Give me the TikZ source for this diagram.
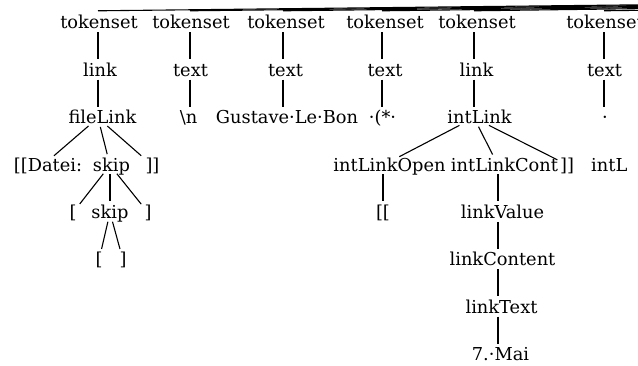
\documentclass[tikz,border=0pt]{standalone}
\usepackage{fontspec}
\setmainfont{DejaVu Serif}
\begin{document}
\begin{tikzpicture}[x=1pt,y=-1pt,
  lbl/.style={anchor=base,inner sep=0pt,text height=12pt,text depth=0pt,font=\fontsize{17.8}{20}\selectfont},
  % sh=<2d> sets the label's text d to the right of the node's centre
  sh/.style={execute at begin node={\hspace*{#1}}},
  br/.style={line width=1.1pt,shorten <=3pt,shorten >=5pt},
  top/.style={line width=1.1pt}]
\useasboundingbox (0,0) rectangle (638,366);
\clip (0,0) rectangle (638,366);
% row baselines
\def\ra{29}\def\rb{76.4}\def\rc{123.8}\def\rd{171.2}
\def\re{218.6}\def\rf{266}\def\rg{313.4}\def\rh{360.8}
% tokenset row
\node[lbl,sh=2pt] (t1) at (98,\ra) {tokenset};
\node[lbl,sh=2pt] (t2) at (190,\ra) {tokenset};
\node[lbl,sh=6pt] (t3) at (283,\ra) {tokenset};
\node[lbl,sh=6pt] (t4) at (382,\ra) {tokenset};
\node[lbl,sh=6pt] (t5) at (474,\ra) {tokenset};
\node[lbl,sh=2pt] (t6) at (604,\ra) {tokenset};
\coordinate (root) at (2530,-16);
\foreach \t in {t1,t2,t3,t4,t5,t6}
  \draw[top] ([yshift=6pt]\t.north) -- (root);
% second row
\node[lbl,sh=4pt] (k1) at (98,\rb) {link};
\node[lbl,sh=1pt] (k2) at (190,\rb) {text};
\node[lbl,sh=5pt] (k3) at (283,\rb) {text};
\node[lbl,sh=6pt] (k4) at (382,\rb) {text};
\node[lbl,sh=5pt] (k5) at (474,\rb) {link};
\node[lbl,sh=1pt] (k6) at (604,\rb) {text};
% third row
\node[lbl,sh=9pt] (f1) at (98,\rc) {fileLink};
\node[lbl,sh=-3pt] (f2) at (190,\rc) {\textbackslash n};
\node[lbl,sh=8pt] (f3) at (283,\rc) {Gustave·Le·Bon};
\node[lbl,sh=1pt] (f4) at (382,\rc) {·(*·};
\node[lbl,sh=11pt] (f5) at (474,\rc) {intLink};
\node[lbl,sh=2pt] (f6) at (604,\rc) {·};
\foreach \i in {1,...,6} {
  \draw[br] (t\i) -- (k\i);
  \draw[br] (k\i) -- (f\i);
}
% fileLink subtree
\node[lbl,sh=10pt] (d1) at (43,\rd) {[[Datei:};
\node[lbl,sh=3pt] (d2) at (110,\rd) {skip};
\node[lbl,sh=1pt] (d3) at (152,\rd) {]]};
\node[lbl] (s1) at (73,\re) {[};
\node[lbl] (s2) at (110,\re) {skip};
\node[lbl] (s3) at (148,\re) {]};
\node[lbl] (b1) at (99,\rf) {[};
\node[lbl] (b2) at (123,\rf) {]};
\foreach \c in {d1,d2,d3} \draw[br] (f1) -- (\c);
\foreach \c in {s1,s2,s3} \draw[br] (d2) -- (\c);
\foreach \c in {b1,b2} \draw[br] (s2) -- (\c);
% intLink subtree
\node[lbl,sh=13pt] (i1) at (383,\rd) {intLinkOpen};
\node[lbl,sh=13pt] (i2) at (498,\rd) {intLinkCont};
\node[lbl,sh=-2pt] (i3) at (568,\rd) {]]};
\node[lbl,anchor=base west] (i4) at (591,\rd) {intL};
\node[lbl] (o1) at (383,\re) {[[};
\node[lbl,sh=9pt] (v1) at (498,\re) {linkValue};
\node[lbl,sh=9pt] (v2) at (498,\rf) {linkContent};
\node[lbl,sh=7pt] (v3) at (498,\rg) {linkText};
\node[lbl,sh=5pt] (v4) at (498,\rh) {7.·Mai};
\foreach \c in {i1,i2,i3} \draw[br] (f5) -- (\c);
\draw[br] (i1) -- (o1);
\draw[br] (i2) -- (v1);
\draw[br] (v1) -- (v2);
\draw[br] (v2) -- (v3);
\draw[br] (v3) -- (v4);
\end{tikzpicture}
\end{document}
